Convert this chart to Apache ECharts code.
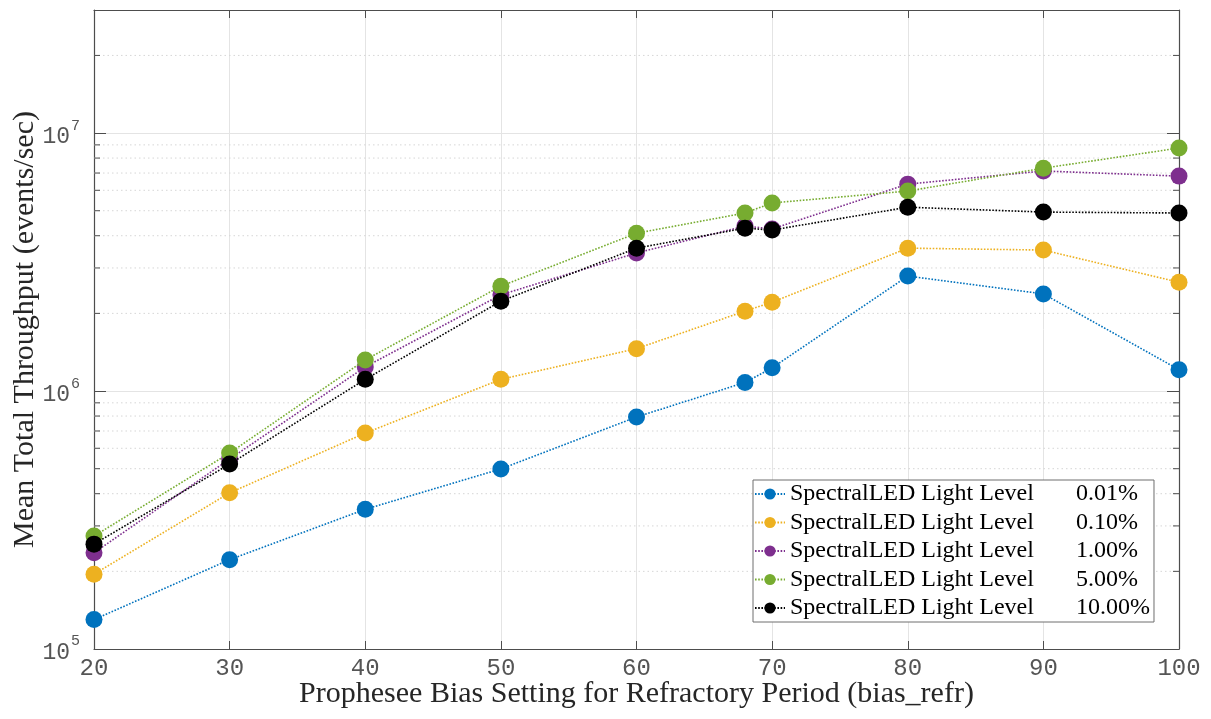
<!DOCTYPE html>
<html>
<head>
<meta charset="utf-8">
<title>Mean Total Throughput vs bias_refr</title>
<script src="https://cdn.jsdelivr.net/npm/echarts@6/dist/echarts.min.js"></script>
<style>
  html, body { margin: 0; padding: 0; background: #fff; }
  #chart { width: 1211px; height: 719px; }
</style>
</head>
<body>
<div id="chart"></div>
<script>
// Bias settings (x) and mean throughput per light level (events/sec)
const BIAS_REFR = [20, 30, 40, 50, 60, 68, 70, 80, 90, 100];

const LEVEL_LABELS = ['0.01%', '0.10%', '1.00%', '5.00%', '10.00%'];

const THROUGHPUT_001 = [1.30e5, 2.22e5, 3.48e5, 4.99e5, 7.93e5, 1.08e6, 1.23e6, 2.79e6, 2.38e6, 1.21e6];
const THROUGHPUT_010 = [1.95e5, 4.03e5, 6.87e5, 1.11e6, 1.46e6, 2.04e6, 2.21e6, 3.58e6, 3.52e6, 2.64e6];
const THROUGHPUT_100 = [2.36e5, 5.45e5, 1.24e6, 2.36e6, 3.43e6, 4.36e6, 4.25e6, 6.34e6, 7.13e6, 6.81e6];
const THROUGHPUT_500 = [2.74e5, 5.75e5, 1.32e6, 2.55e6, 4.09e6, 4.90e6, 5.36e6, 5.96e6, 7.31e6, 8.75e6];
const THROUGHPUT_1000 = [2.55e5, 5.21e5, 1.11e6, 2.23e6, 3.58e6, 4.28e6, 4.21e6, 5.16e6, 4.94e6, 4.90e6];

// Minor log ticks between decades
const MINOR_TICKS = [2e5, 3e5, 4e5, 5e5, 6e5, 7e5, 8e5, 9e5,
                     2e6, 3e6, 4e6, 5e6, 6e6, 7e6, 8e6, 9e6,
                     2e7];

const X_MIN = 20, X_MAX = 100, X_STEP = 10;
const Y_MIN = 1e5, Y_MAX = 3e7;

const SERIES_VALUES = [THROUGHPUT_001, THROUGHPUT_010, THROUGHPUT_100, THROUGHPUT_500, THROUGHPUT_1000];
const COLORS = ['#0072BD', '#EDB120', '#7E2F8E', '#77AC30', '#000000'];
const NAME_PREFIX = 'SpectralLED Light Level';

const AXIS_COLOR = '#4d4d4d';
const GRID_COLOR = '#e4e4e4';
const MINOR_COLOR = '#d6d6d6';
const TICK_FONT = 'Liberation Mono, DejaVu Sans Mono, monospace';
const SERIF = 'Liberation Serif, DejaVu Serif, serif';

const chart = echarts.init(document.getElementById('chart'), null, { renderer: 'canvas' });

const lineSeries = SERIES_VALUES.map((vals, i) => ({
  name: NAME_PREFIX + ' ' + LEVEL_LABELS[i],
  type: 'line',
  xAxisIndex: 0,
  yAxisIndex: 0,
  data: BIAS_REFR.map((x, j) => [x, vals[j]]),
  symbol: 'circle',
  symbolSize: 17,
  color: COLORS[i],
  itemStyle: { color: COLORS[i] },
  lineStyle: { color: COLORS[i], width: 1.6, type: [1.6, 1.6] },
  emphasis: { disabled: true },
  animation: false,
  z: 10 + i
}));

// Dotted minor grid lines plus short inward ticks on both vertical edges
const minorSeries = {
  type: 'custom',
  xAxisIndex: 0,
  yAxisIndex: 0,
  silent: true,
  animation: false,
  z: 1,
  data: MINOR_TICKS.map(v => [X_MIN, v]),
  encode: { x: 0, y: 1 },
  renderItem: function (params, api) {
    const cs = params.coordSys;
    const y = api.coord([X_MIN, api.value(1)])[1];
    const x0 = cs.x, x1 = cs.x + cs.width;
    return {
      type: 'group',
      children: [
        { type: 'line', shape: { x1: x0, y1: y, x2: x1, y2: y },
          style: { stroke: MINOR_COLOR, lineWidth: 1, lineDash: [1.5, 3] } },
        { type: 'line', shape: { x1: x0, y1: y, x2: x0 + 6, y2: y },
          style: { stroke: AXIS_COLOR, lineWidth: 1 } },
        { type: 'line', shape: { x1: x1 - 6, y1: y, x2: x1, y2: y },
          style: { stroke: AXIS_COLOR, lineWidth: 1 } }
      ]
    };
  }
};

function powLabel(v) {
  const e = Math.log10(v);
  if (Math.abs(e - Math.round(e)) > 1e-9) return '';
  return '{b|10}{s|' + Math.round(e) + '}';
}

const option = {
  backgroundColor: '#ffffff',
  animation: false,
  grid: { left: 94, right: 32, top: 10, bottom: 70, containLabel: false, outerBoundsMode: 'none' },
  xAxis: [
    {
      type: 'value', min: X_MIN, max: X_MAX, interval: X_STEP,
      position: 'bottom',
      name: 'Prophesee Bias Setting for Refractory Period (bias_refr)',
      nameLocation: 'middle', nameGap: 30, nameMoveOverlap: false,
      nameTextStyle: { fontFamily: SERIF, fontSize: 30, color: '#262626' },
      axisLine: { show: true, lineStyle: { color: AXIS_COLOR, width: 1.2 } },
      axisTick: { show: true, inside: true, length: 8, lineStyle: { color: AXIS_COLOR } },
      axisLabel: { fontFamily: TICK_FONT, fontSize: 24, color: '#555555', margin: 8 },
      splitLine: { show: true, lineStyle: { color: GRID_COLOR, width: 1 } }
    },
    {
      type: 'value', min: X_MIN, max: X_MAX, interval: X_STEP,
      position: 'top',
      axisLine: { show: true, lineStyle: { color: AXIS_COLOR, width: 1.2 } },
      axisTick: { show: true, inside: true, length: 8, lineStyle: { color: AXIS_COLOR } },
      axisLabel: { show: false },
      splitLine: { show: false }
    }
  ],
  yAxis: [
    {
      type: 'log', logBase: 10, min: Y_MIN, max: Y_MAX,
      position: 'left',
      name: 'Mean Total Throughput (events/sec)',
      nameLocation: 'middle', nameGap: 54, nameMoveOverlap: false,
      nameTextStyle: { fontFamily: SERIF, fontSize: 30, color: '#262626' },
      axisLine: { show: true, lineStyle: { color: AXIS_COLOR, width: 1.2 } },
      axisTick: { show: true, inside: true, length: 12, lineStyle: { color: AXIS_COLOR } },
      axisLabel: {
        margin: 14,
        formatter: powLabel,
        rich: {
          b: { fontFamily: TICK_FONT, fontSize: 23, color: '#555555', verticalAlign: 'bottom', lineHeight: 30 },
          s: { fontFamily: TICK_FONT, fontSize: 15, color: '#555555', verticalAlign: 'top', lineHeight: 30, padding: [0, 0, 12, 1] }
        }
      },
      splitLine: { show: true, lineStyle: { color: GRID_COLOR, width: 1 } }
    },
    {
      type: 'log', logBase: 10, min: Y_MIN, max: Y_MAX,
      position: 'right',
      axisLine: { show: true, lineStyle: { color: AXIS_COLOR, width: 1.2 } },
      axisTick: { show: true, inside: true, length: 12, lineStyle: { color: AXIS_COLOR } },
      axisLabel: { show: false },
      splitLine: { show: false }
    }
  ],
  legend: {
    data: LEVEL_LABELS.map(l => NAME_PREFIX + ' ' + l),
    orient: 'vertical',
    left: 753, top: 480,
    backgroundColor: '#ffffff',
    borderColor: '#6e6e6e', borderWidth: 1, borderRadius: 0,
    padding: [2, 4, 2, 1],
    itemGap: 4.5,
    itemWidth: 30, itemHeight: 14,
    selectedMode: false,
    formatter: function (name) {
      const pct = name.slice(NAME_PREFIX.length + 1);
      return '{a|' + NAME_PREFIX + '}{p|' + pct + '}';
    },
    textStyle: {
      fontFamily: SERIF, fontSize: 24, color: '#000',
      rich: {
        a: { fontFamily: SERIF, fontSize: 24, color: '#000', width: 286, lineHeight: 26 },
        p: { fontFamily: SERIF, fontSize: 24, color: '#000', lineHeight: 26 }
      }
    }
  },
  series: [minorSeries].concat(lineSeries)
};

chart.setOption(option);
</script>
</body>
</html>
